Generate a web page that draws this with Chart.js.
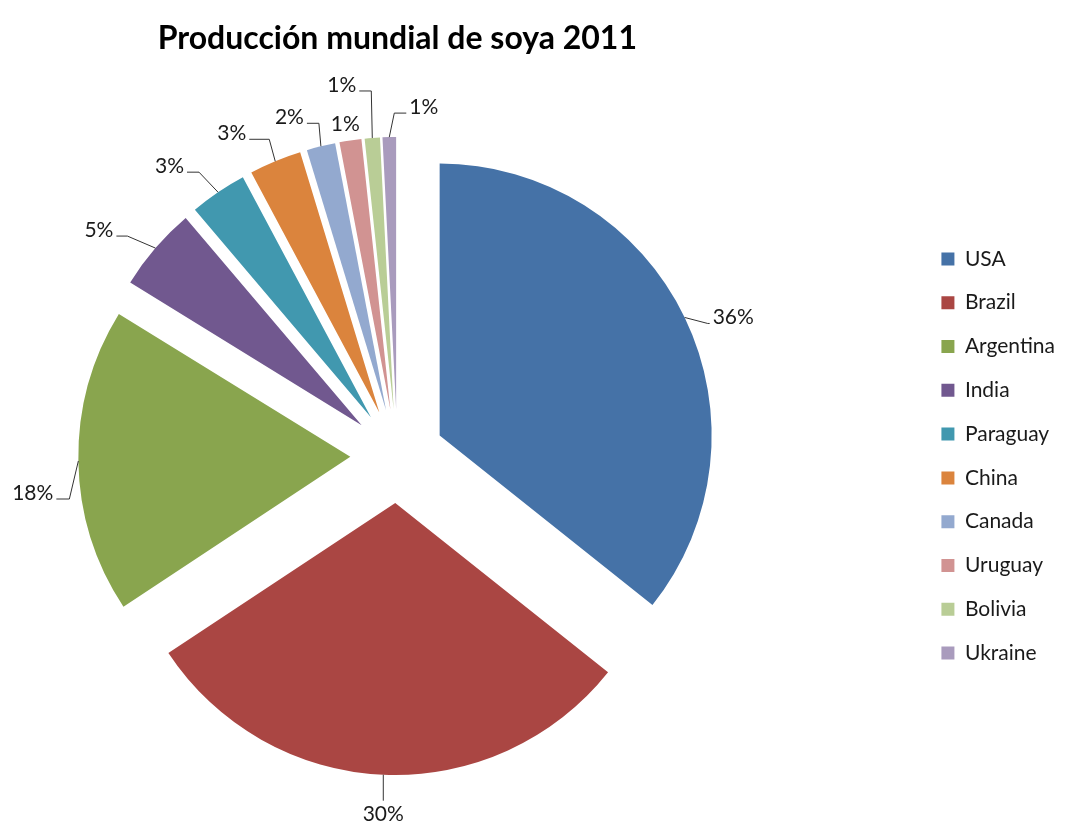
<!DOCTYPE html>
<html>
<head>
<meta charset="utf-8">
<script src="https://cdn.jsdelivr.net/npm/chart.js@4/dist/chart.umd.min.js"></script>
<style>
  html, body { margin: 0; padding: 0; background: #ffffff; }
  #c { display: block; }
</style>
</head>
<body>
<canvas id="c" width="1065" height="824"></canvas>
<script>
// ---- data ----
const categories = ['USA', 'Brazil', 'Argentina', 'India', 'Paraguay', 'China', 'Canada', 'Uruguay', 'Bolivia', 'Ukraine'];
const shares = [35.7, 30.0, 18.1, 5.0, 3.4, 3.1, 1.7, 1.3, 0.9, 0.8];
const titleText = 'Producción mundial de soya 2011';

// ---- style ----
const sliceColors = ['#4572A7', '#AA4643', '#89A54E', '#71588F', '#4198AF', '#DB843D', '#93A9CF', '#D19392', '#B9CD96', '#A99BBD'];
const EXPLODE = 47;      // px each slice is pulled out from the centre
const RADIUS = 272;
const FONT = 'Lato, "Open Sans", sans-serif';
// leader line layout per slice: elbow offset from the arc point, then horizontal run
const leaderLayout = [
  { kind: 'side', elbow: [23, 6], run: 2 },
  { kind: 'below', elbow: [0, 26] },
  { kind: 'side', elbow: [-9, 38], run: -13 },
  { kind: 'side', elbow: [-28, -12], run: -11 },
  { kind: 'side', elbow: [-19, -20], run: -12 },
  { kind: 'side', elbow: [-6, -22], run: -20 },
  { kind: 'side', elbow: [-2, -23], run: -12 },
  { kind: 'none', shift: [-5, -9] },
  { kind: 'side', elbow: [-1, -47], run: -12 },
  { kind: 'side', elbow: [5, -24], run: 12 }
];

// pull every slice outward along its mid-angle (exploded pie)
const explode = {
  id: 'explode',
  afterDatasetUpdate(chart, args) {
    const meta = chart.getDatasetMeta(args.index);
    meta.data.forEach(arc => {
      if (arc._exploded) return;
      arc._exploded = true;
      const baseDraw = arc.draw;
      arc.draw = function (ctx, area) {
        const mid = (this.startAngle + this.endAngle) / 2;
        ctx.save();
        ctx.translate(Math.cos(mid) * EXPLODE, Math.sin(mid) * EXPLODE);
        baseDraw.call(this, ctx, area);
        ctx.restore();
      };
    });
  }
};

const leaders = {
  id: 'leaders',
  afterDatasetsDraw(chart) {
    const ctx = chart.ctx;
    const meta = chart.getDatasetMeta(0);
    const R = meta.controller.outerRadius;
    const total = shares.reduce((a, b) => a + b, 0);
    ctx.save();
    ctx.font = '21px ' + FONT;
    ctx.fillStyle = '#1a1a1a';
    ctx.strokeStyle = '#333333';
    ctx.lineWidth = 1;
    ctx.textBaseline = 'alphabetic';
    meta.data.forEach((arc, i) => {
      const mid = (arc.startAngle + arc.endAngle) / 2;
      const ax = arc.x + Math.cos(mid) * (EXPLODE + R);
      const ay = arc.y + Math.sin(mid) * (EXPLODE + R);
      const L = leaderLayout[i];
      const text = Math.round(shares[i] / total * 100) + '%';
      if (L.kind === 'none') {
        ctx.textAlign = 'center';
        ctx.fillText(text, ax + L.shift[0], ay + L.shift[1]);
        return;
      }
      const ex = ax + L.elbow[0], ey = ay + L.elbow[1];
      ctx.beginPath();
      ctx.moveTo(ax, ay);
      ctx.lineTo(ex, ey);
      if (L.kind === 'below') {
        ctx.stroke();
        ctx.textAlign = 'center';
        ctx.fillText(text, ex, ey + 20);
        return;
      }
      const fx = ex + L.run;
      ctx.lineTo(fx, ey);
      ctx.stroke();
      if (L.run >= 0) {
        ctx.textAlign = 'left';
        ctx.fillText(text, fx + 3, ey + 1);
      } else {
        ctx.textAlign = 'right';
        ctx.fillText(text, fx - 3, ey + 1);
      }
    });
    ctx.restore();
  }
};

new Chart(document.getElementById('c'), {
  type: 'pie',
  data: {
    labels: categories,
    datasets: [{
      data: shares,
      backgroundColor: sliceColors,
      borderWidth: 0,
      radius: RADIUS
    }]
  },
  options: {
    responsive: false,
    animation: false,
    events: [],
    layout: { padding: { left: 0, right: 0, top: 0, bottom: 0 } },
    plugins: {
      title: {
        display: true,
        text: titleText,
        fullSize: false,
        color: '#000000',
        font: { family: FONT, size: 32, weight: 'bold', lineHeight: 1.2 },
        padding: { top: 19, bottom: 30.6 }
      },
      subtitle: {
        display: true,
        text: ' ',
        position: 'right',
        fullSize: false,
        weight: 500,
        font: { family: FONT, size: 12, lineHeight: 1 },
        padding: { top: 112, bottom: 0 }
      },
      legend: {
        display: true,
        position: 'right',
        fullSize: false,
        align: 'center',
        weight: 1000,
        labels: {
          color: '#1a1a1a',
          font: { family: FONT, size: 21 },
          boxWidth: 13,
          boxHeight: 13,
          padding: 22.8
        }
      },
      tooltip: { enabled: false }
    }
  },
  plugins: [explode, leaders]
});
</script>
</body>
</html>
